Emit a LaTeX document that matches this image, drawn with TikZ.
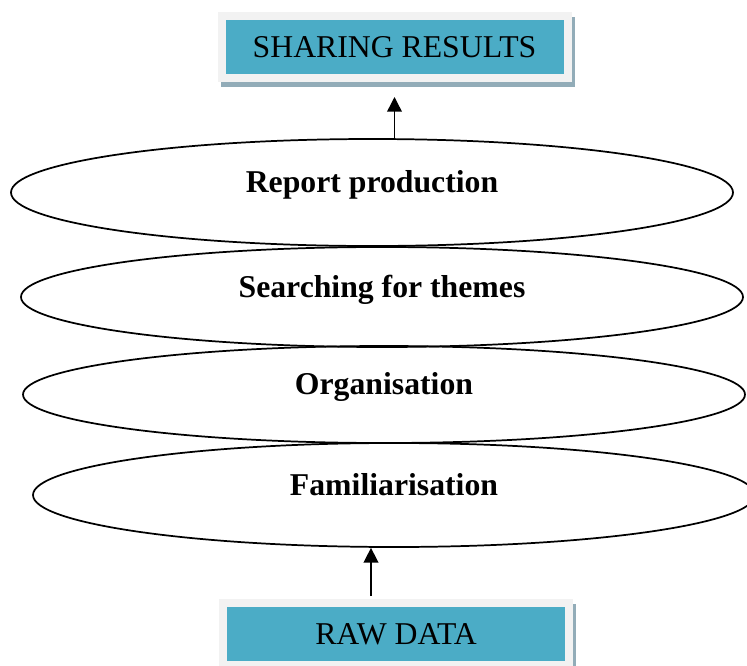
\documentclass[tikz,border=0pt]{standalone}
\usepackage{fontspec}
\setmainfont{Liberation Serif}
\usetikzlibrary{shapes.geometric,arrows.meta}
\definecolor{boxteal}{RGB}{75,172,198}
\definecolor{boxframe}{RGB}{242,242,242}
\definecolor{boxshadow}{RGB}{146,172,184}

\begin{document}
\begin{tikzpicture}[x=0.75pt,y=0.75pt,yscale=-1,
  resultbox/.style={rectangle, fill=boxteal, draw=boxframe, line width=6pt,
    minimum width=259.5pt, minimum height=46.5pt, inner sep=0pt,
    font=\fontsize{23.8pt}{28pt}\selectfont,
    preaction={draw=boxshadow, fill=boxshadow, transform canvas={xshift=2.25pt, yshift=-3.75pt}}},
  stage/.style={ellipse, draw, line width=1.3pt, minimum width=541.5pt, inner sep=0pt,
    text height=1.2ex, text depth=1.2ex, font=\fontsize{23.8pt}{28pt}\selectfont\bfseries},
  flow/.style={-{Triangle[width=11pt,length=11pt]}, line width=1.1pt}]
\useasboundingbox (0,0) rectangle (747,665);

%Shape: Rectangle [top box]
\node[resultbox] (sharing) at (394.5,47) {SHARING RESULTS};

%Shape: Ellipse [stages, top to bottom]
\node[stage, minimum height=80.25pt] (report) at (372,192.5) {Report production};
\node[stage, minimum height=75pt] (themes) at (382,297) {Searching for themes};
\node[stage, minimum height=72.75pt] (organise) at (384,394.5) {Organisation};
\node[stage, minimum height=78pt] (familiar) at (394,495) {Familiarisation};

%Shape: Rectangle [bottom box]
\node[resultbox] (rawdata) at (396,634) {RAW DATA};

%Straight Lines [arrows]
\draw[flow, shorten >=11.25pt] (report.north -| sharing.south) -- (sharing.south);
\coordinate (rawtop) at (371,596);
\draw[flow] (rawtop) -- (rawtop |- familiar.south);

\end{tikzpicture}
\end{document}
